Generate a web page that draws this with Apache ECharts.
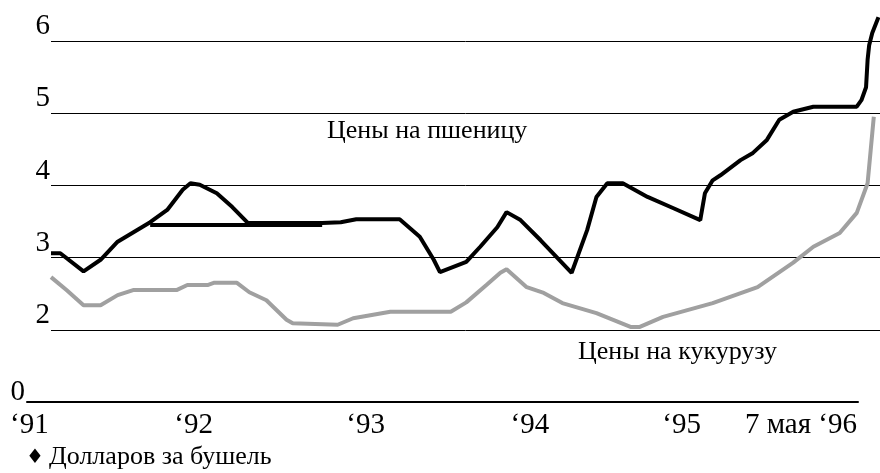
<!DOCTYPE html>
<html>
<head>
<meta charset="utf-8">
<script src="https://cdn.jsdelivr.net/npm/echarts@6/dist/echarts.min.js"></script>
<style>
  html, body { margin: 0; padding: 0; background: #fff; }
  #main { width: 880px; height: 473px; }
</style>
</head>
<body>
<div id="main"></div>
<script>
// годы (десятичные) и цены, долларов за бушель
var wheatYears = [1991.0, 1991.06, 1991.21, 1991.32, 1991.43, 1991.64, 1991.75, 1991.85, 1991.90, 1991.96,
  1992.07, 1992.17, 1992.27, 1992.75, 1992.87, 1992.97, 1993.25, 1993.38, 1993.47, 1993.51,
  1993.68, 1993.77, 1993.88, 1993.94, 1994.03, 1994.16, 1994.28, 1994.36, 1994.46, 1994.52,
  1994.59, 1994.69, 1994.85, 1995.01, 1995.19, 1995.22, 1995.27, 1995.32, 1995.45, 1995.53,
  1995.62, 1995.70, 1995.79, 1995.92, 1996.20, 1996.23, 1996.26, 1996.27, 1996.28, 1996.30, 1996.34];
var wheatValues = [3.06, 3.06, 2.81, 2.97, 3.22, 3.49, 3.66, 3.94, 4.03, 4.01,
  3.89, 3.70, 3.48, 3.48, 3.49, 3.53, 3.53, 3.29, 2.97, 2.80,
  2.94, 3.15, 3.42, 3.63, 3.52, 3.24, 2.97, 2.79, 3.38, 3.84,
  4.03, 4.03, 3.84, 3.69, 3.52, 3.89, 4.07, 4.14, 4.35, 4.45,
  4.63, 4.91, 5.02, 5.09, 5.09, 5.18, 5.36, 5.74, 5.94, 6.11, 6.33];
// ровный отрезок, наложенный на линию пшеницы
var wheatFlatYears = [1991.64, 1992.75];
var wheatFlatValues = [3.45, 3.45];

var cornYears = [1991.0, 1991.10, 1991.21, 1991.32, 1991.43, 1991.53, 1991.81, 1991.88, 1992.01, 1992.05,
  1992.20, 1992.28, 1992.39, 1992.52, 1992.56, 1992.85, 1992.95, 1993.19, 1993.58, 1993.68,
  1993.81, 1993.90, 1993.94, 1994.07, 1994.18, 1994.30, 1994.41, 1994.52, 1994.74, 1994.80,
  1994.95, 1995.27, 1995.56, 1995.79, 1995.92, 1996.09, 1996.20, 1996.27, 1996.29, 1996.31];
var cornValues = [2.73, 2.55, 2.34, 2.34, 2.48, 2.55, 2.55, 2.62, 2.62, 2.65,
  2.65, 2.52, 2.41, 2.14, 2.09, 2.07, 2.16, 2.25, 2.25, 2.38,
  2.62, 2.79, 2.84, 2.59, 2.51, 2.37, 2.30, 2.23, 2.04, 2.04,
  2.18, 2.37, 2.59, 2.93, 3.15, 3.34, 3.62, 4.03, 4.49, 4.95];

var tickYears = [1990.86, 1991.92, 1993.03, 1994.09, 1995.07, 1995.84];
var tickLabels = ['‘91', '‘92', '‘93', '‘94', '‘95', '7 мая ‘96'];

function pairs(xs, ys) {
  return xs.map(function (x, i) { return [x, ys[i]]; });
}

var serif = 'Liberation Serif';
var chart = echarts.init(document.getElementById('main'));
chart.setOption({
  animation: false,
  backgroundColor: '#fff',
  grid: [
    { left: 51, right: 0, top: 41, bottom: 71 },
    { left: 27, right: 22, top: 380, bottom: 71 }
  ],
  xAxis: [
    {
      type: 'value', gridIndex: 0, min: 1991.0, max: 1996.35,
      axisLine: { show: false }, axisTick: { show: false },
      axisLabel: { show: false }, splitLine: { show: false }
    },
    {
      type: 'value', gridIndex: 1, min: 1990.845, max: 1996.208, position: 'bottom',
      axisLine: { show: true, onZero: false, lineStyle: { color: '#000', width: 2 } },
      axisTick: { show: false }, splitLine: { show: false },
      axisLabel: {
        customValues: tickYears,
        formatter: function (v) {
          var i = tickYears.indexOf(v);
          return i >= 0 ? tickLabels[i] : '';
        },
        color: '#000', fontFamily: serif, fontSize: 29, margin: 9
      }
    }
  ],
  yAxis: [
    {
      type: 'value', gridIndex: 0, min: 1, max: 6, interval: 1,
      axisLine: { show: false }, axisTick: { show: false },
      axisLabel: {
        showMinLabel: false,
        color: '#000', fontFamily: serif, fontSize: 29,
        margin: 1, verticalAlign: 'bottom'
      },
      splitLine: { show: true, showMinLine: false, lineStyle: { color: '#000', width: 1 } }
    },
    {
      type: 'value', gridIndex: 1, min: 0, max: 1,
      axisLine: { show: false }, axisTick: { show: false }, splitLine: { show: false },
      axisLabel: {
        customValues: [0],
        formatter: function () { return '0'; },
        color: '#000', fontFamily: serif, fontSize: 29, lineHeight: 20,
        margin: 2, verticalAlign: 'bottom'
      }
    }
  ],
  graphic: [
    { type: 'text', left: 327, top: 118, style: { text: 'Цены на пшеницу', font: '26px "Liberation Serif"', fill: '#000' } },
    { type: 'text', left: 578, top: 339, style: { text: 'Цены на кукурузу', font: '26px "Liberation Serif"', fill: '#000' } },
    { type: 'text', left: 26, top: 448, style: { text: '♦', font: '20px "DejaVu Sans"', fill: '#000' } },
    { type: 'text', left: 49, top: 444, style: { text: 'Долларов за бушель', font: '26px "Liberation Serif"', fill: '#000' } }
  ],
  series: [
    {
      name: 'Цены на кукурузу', type: 'line', xAxisIndex: 0, yAxisIndex: 0,
      data: pairs(cornYears, cornValues), showSymbol: false, clip: false,
      lineStyle: { color: '#a0a0a0', width: 4 }
    },
    {
      name: 'Цены на пшеницу', type: 'line', xAxisIndex: 0, yAxisIndex: 0,
      data: pairs(wheatYears, wheatValues), showSymbol: false, clip: false,
      lineStyle: { color: '#000', width: 4 }
    },
    {
      name: 'Цены на пшеницу (отрезок)', type: 'line', xAxisIndex: 0, yAxisIndex: 0,
      data: pairs(wheatFlatYears, wheatFlatValues), showSymbol: false,
      lineStyle: { color: '#000', width: 4 }
    }
  ]
});
</script>
</body>
</html>
